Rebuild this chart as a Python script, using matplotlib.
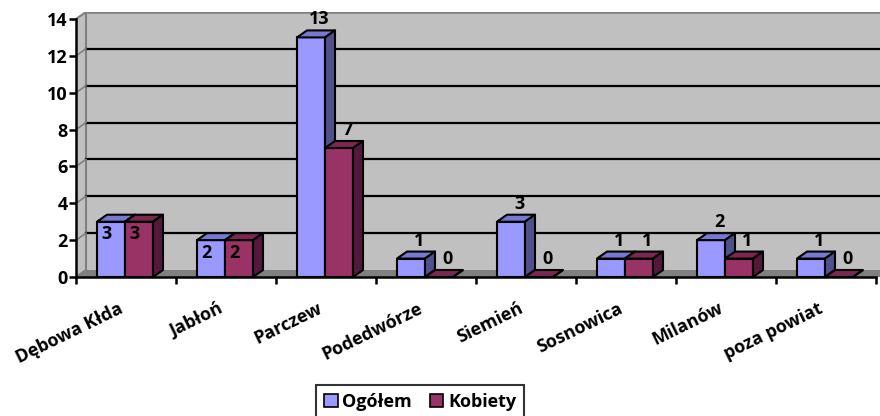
import matplotlib
matplotlib.use("Agg")
import matplotlib.pyplot as plt
from matplotlib.patches import Polygon, Patch

# data
categories = ["Dębowa Kłda", "Jabłoń", "Parczew", "Podedwórze",
              "Siemień", "Sosnowica", "Milanów", "poza powiat"]
ogolem = [3, 2, 13, 1, 3, 1, 2, 1]
kobiety = [3, 2, 7, 0, 0, 1, 1, 0]
series_names = ["Ogółem", "Kobiety"]
y_ticks = [0, 2, 4, 6, 8, 10, 12, 14]

plt.rcParams["font.family"] = ["Open Sans", "DejaVu Sans"]
plt.rcParams["font.weight"] = "bold"
FS = 13

BLUE = ("#9999FF", "#7878D0", "#50508C")   # front, top, side
RED = ("#993366", "#7A2850", "#52193A")

fig = plt.figure(figsize=(8.8, 4.16), dpi=100)
px = 18.43                      # pixels per y unit
ax = fig.add_axes([76 / 880, 139 / 416, 804 / 880, 265 / 416])
ax.set_xlim(0, 8.04)
ax.set_ylim(0, 265 / px)
ax.patch.set_alpha(0)

dx = 0.10                       # depth offset (x data units)
dy = 7 / px                     # depth offset (y data units)
ytop = y_ticks[-1]
xend = 8.04

# walls and floor
ax.add_patch(Polygon([(dx, dy), (xend, dy), (xend, ytop + dy), (dx, ytop + dy)],
                     closed=True, fc="#C0C0C0", ec="none", zorder=0))
ax.add_patch(Polygon([(0, 0), (dx, dy), (dx, ytop + dy), (0, ytop)],
                     closed=True, fc="#C0C0C0", ec="#808080", lw=1.5, zorder=0))
ax.add_patch(Polygon([(0, 0), (xend, 0), (xend, dy), (dx, dy)],
                     closed=True, fc="#808080", ec="none", zorder=0))
for v in y_ticks[1:-1]:
    ax.plot([dx, xend], [v + dy, v + dy], color="black", lw=1.6, zorder=1)
    ax.plot([0, dx], [v, v + dy], color="#808080", lw=1.2, zorder=1)
ax.plot([dx, xend], [ytop + dy, ytop + dy], color="#808080", lw=1.8, zorder=1)


def bar3d(x0, w, h, cols):
    kw = dict(closed=True, ec="black", lw=1.5, joinstyle="round", zorder=3)
    ax.add_patch(Polygon([(x0, 0), (x0 + w, 0), (x0 + w, h), (x0, h)], fc=cols[0], **kw))
    ax.add_patch(Polygon([(x0, h), (x0 + w, h), (x0 + w + dx, h + dy), (x0 + dx, h + dy)],
                         fc=cols[1], **kw))
    ax.add_patch(Polygon([(x0 + w, 0), (x0 + w + dx, dy), (x0 + w + dx, h + dy), (x0 + w, h)],
                         fc=cols[2], **kw))


bw = 0.28
for i, (a, b) in enumerate(zip(ogolem, kobiety)):
    c = i + 0.5
    bar3d(c - 0.29, bw, a, BLUE)
    bar3d(c - 0.01, bw, b, RED)
    for val, x0 in ((a, c - 0.29), (b, c - 0.01)):
        if i < 2:   # labels sit inside the first two groups
            ax.annotate(str(val), (x0 + bw / 2, val), xytext=(-3, -9),
                        textcoords="offset points", ha="center", va="center",
                        fontsize=FS, fontweight="bold", zorder=5)
        else:
            ax.annotate(str(val), (x0 + bw / 2, val), xytext=(6, 13),
                        textcoords="offset points", ha="center", va="center",
                        fontsize=FS, fontweight="bold", zorder=5)

# axes
for s in ("top", "right"):
    ax.spines[s].set_visible(False)
ax.spines["left"].set_bounds(0, ytop)
ax.spines["bottom"].set_bounds(0, 8)
for s in ("left", "bottom"):
    ax.spines[s].set_linewidth(1.8)
    ax.spines[s].set_zorder(4)
ax.set_yticks(y_ticks)
ax.set_yticklabels([str(t) for t in y_ticks], fontsize=FS, fontweight="bold")
ax.set_xticks(range(9))
ax.set_xticklabels([])
ax.tick_params(axis="both", direction="out", length=5, width=1.8, pad=1)

for i, name in enumerate(categories):
    ax.annotate(name, (i + 0.5, 0), xycoords=("data", "axes fraction"),
                xytext=(-6, -16), textcoords="offset points",
                ha="right", va="top", rotation=26, rotation_mode="anchor",
                fontsize=FS, fontweight="bold")

handles = [Patch(fc=BLUE[0], ec="black", lw=1.2, label=series_names[0]),
           Patch(fc=RED[0], ec="black", lw=1.2, label=series_names[1])]
leg = fig.legend(handles=handles, loc="upper center", ncol=2,
                 bbox_to_anchor=(420 / 880, 1 - 376 / 416),
                 frameon=True, fancybox=False, edgecolor="black",
                 handlelength=0.75, handleheight=0.75, handletextpad=0.25,
                 columnspacing=1.0, borderpad=0.45,
                 prop={"size": FS, "weight": "bold"})
leg.get_frame().set_linewidth(1.5)

fig.savefig("out.png", dpi=100)
